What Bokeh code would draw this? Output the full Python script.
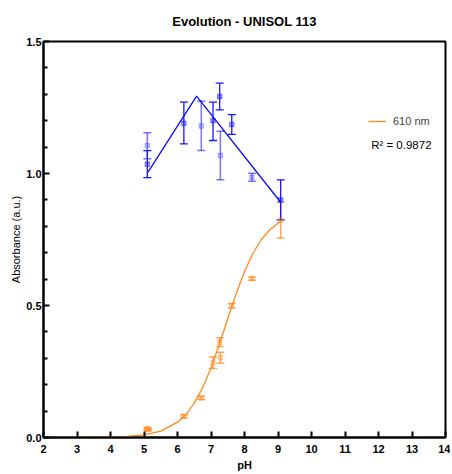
from bokeh.plotting import figure
from bokeh.models import (ColumnDataSource, Whisker, TeeHead, FixedTicker, Legend,
                          LegendItem, Label, NumeralTickFormatter, Range1d)
from bokeh.embed import file_html
from bokeh.resources import INLINE

# ---- data ----
blue_dark_ph = [5.10, 6.19, 7.06, 7.26, 7.62, 9.08]
blue_dark_abs = [1.035, 1.19, 1.20, 1.292, 1.186, 0.90]
blue_dark_lo = [0.984, 1.112, 1.125, 1.241, 1.148, 0.824]
blue_dark_hi = [1.087, 1.270, 1.270, 1.342, 1.223, 0.976]

blue_light_ph = [5.10, 6.71, 7.28, 8.22]
blue_light_abs = [1.106, 1.18, 1.068, 0.986]
blue_light_lo = [1.056, 1.087, 0.976, 0.971]
blue_light_hi = [1.154, 1.274, 1.160, 1.001]

blue_line_ph = [5.12, 6.57, 9.08]
blue_line_abs = [1.005, 1.293, 0.891]

orange_ph = [5.10, 5.12, 6.19, 6.71, 7.06, 7.26, 7.28, 7.62, 8.22, 9.08]
orange_abs = [0.033, 0.030, 0.080, 0.150, 0.283, 0.361, 0.303, 0.499, 0.602, 0.823]
orange_lo = [0.028, 0.026, 0.074, 0.144, 0.261, 0.345, 0.281, 0.490, 0.596, 0.756]
orange_hi = [0.038, 0.034, 0.086, 0.156, 0.305, 0.378, 0.323, 0.508, 0.608, 0.891]

fit_ph = [2.0, 3.0, 4.0, 4.5, 5.0, 5.5, 6.0, 6.25, 6.5, 6.75, 7.0, 7.25, 7.5,
          7.75, 8.0, 8.25, 8.5, 8.75, 9.0, 9.1]
fit_abs = [0.000, 0.000, 0.002, 0.004, 0.010, 0.024, 0.058, 0.087, 0.130, 0.188,
           0.263, 0.353, 0.450, 0.544, 0.629, 0.697, 0.749, 0.786, 0.812, 0.819]

x_ticks = list(range(2, 15))
y_ticks = [0.0, 0.5, 1.0, 1.5]
y_minor = [0.1, 0.2, 0.3, 0.4, 0.6, 0.7, 0.8, 0.9, 1.1, 1.2, 1.3, 1.4]

legend_label = "610 nm"
r2_text = "R\u00b2 = 0.9872"

BLUE = "#0a0aff"
ORANGE = "#ff8a1e"
FONT = "Liberation Sans"

p = figure(width=450, height=474, output_backend="svg",
           toolbar_location=None, x_range=Range1d(2, 14), y_range=Range1d(0, 1.5),
           min_border_left=43, min_border_right=5, min_border_top=41,
           min_border_bottom=37, title="Evolution - UNISOL 113")
p.title.align = "center"
p.title.text_font = FONT
p.title.text_font_size = "13px"
p.title.text_font_style = "bold"
p.title.text_color = "black"
p.title.vertical_align = "top"
p.title.standoff = 22
p.xgrid.visible = False
p.ygrid.visible = False
p.outline_line_color = "black"
p.outline_line_width = 2
p.background_fill_color = "white"
p.border_fill_color = "white"

for ax in (p.xaxis[0], p.yaxis[0]):
    ax.axis_line_width = 2
    ax.axis_line_color = "black"
    ax.major_tick_line_width = 2
    ax.minor_tick_line_width = 2
    ax.major_tick_in = 6
    ax.major_tick_out = 0
    ax.minor_tick_in = 4
    ax.minor_tick_out = 0
    ax.major_label_text_font = FONT
    ax.major_label_text_font_size = "11px"
    ax.major_label_text_font_style = "bold"
    ax.major_label_text_color = "black"
    ax.axis_label_text_font = FONT
    ax.axis_label_text_font_size = "11px"
    ax.axis_label_text_color = "black"
    ax.major_label_standoff = 2

p.xaxis.major_label_standoff = 7
p.xaxis.ticker = FixedTicker(ticks=x_ticks, minor_ticks=[])
p.yaxis.ticker = FixedTicker(ticks=y_ticks, minor_ticks=y_minor)
p.yaxis.formatter = NumeralTickFormatter(format="0.0")
p.xaxis.axis_label = "pH"
p.xaxis.axis_label_text_font_style = "bold"
p.yaxis.axis_label = "Absorbance (a.u.)"
p.yaxis.axis_label_text_font_style = "normal"
p.xaxis.axis_label_standoff = 3
p.yaxis.axis_label_standoff = 1

# fit curve
fit_r = p.line(fit_ph, fit_abs, line_color=ORANGE, line_width=1.3)

# blue polyline
p.line(blue_line_ph, blue_line_abs, line_color=BLUE, line_width=1.3)

def add_series(ph, ab, lo, hi, color, alpha, width):
    src = ColumnDataSource(dict(x=ph, y=ab, lo=lo, hi=hi))
    w = Whisker(source=src, base="x", upper="hi", lower="lo", dimension="height",
                line_color=color, line_width=width, line_alpha=alpha,
                upper_head=TeeHead(size=8, line_color=color, line_width=width, line_alpha=alpha),
                lower_head=TeeHead(size=8, line_color=color, line_width=width, line_alpha=alpha))
    p.add_layout(w)
    p.scatter("x", "y", source=src, marker="square", size=4.5, fill_color=color,
              line_color=color, fill_alpha=alpha * 0.4, line_alpha=alpha * 0.5)

add_series(orange_ph, orange_abs, orange_lo, orange_hi, ORANGE, 0.75, 1.5)
add_series(blue_light_ph, blue_light_abs, blue_light_lo, blue_light_hi, BLUE, 0.55, 1.5)
add_series(blue_dark_ph, blue_dark_abs, blue_dark_lo, blue_dark_hi, BLUE, 0.95, 1.3)

legend = Legend(items=[LegendItem(label=legend_label, renderers=[fit_r])],
                location=(325, 306), border_line_color=None,
                background_fill_alpha=0, padding=0, margin=0,
                label_text_font=FONT, label_text_font_size="11px",
                glyph_width=18, label_standoff=7)
p.add_layout(legend)

p.add_layout(Label(x=11.78, y=1.085, text=r2_text, text_font=FONT,
                   text_font_size="11.5px", text_color="black"))

open("out.html", "w").write(file_html(p, INLINE))
